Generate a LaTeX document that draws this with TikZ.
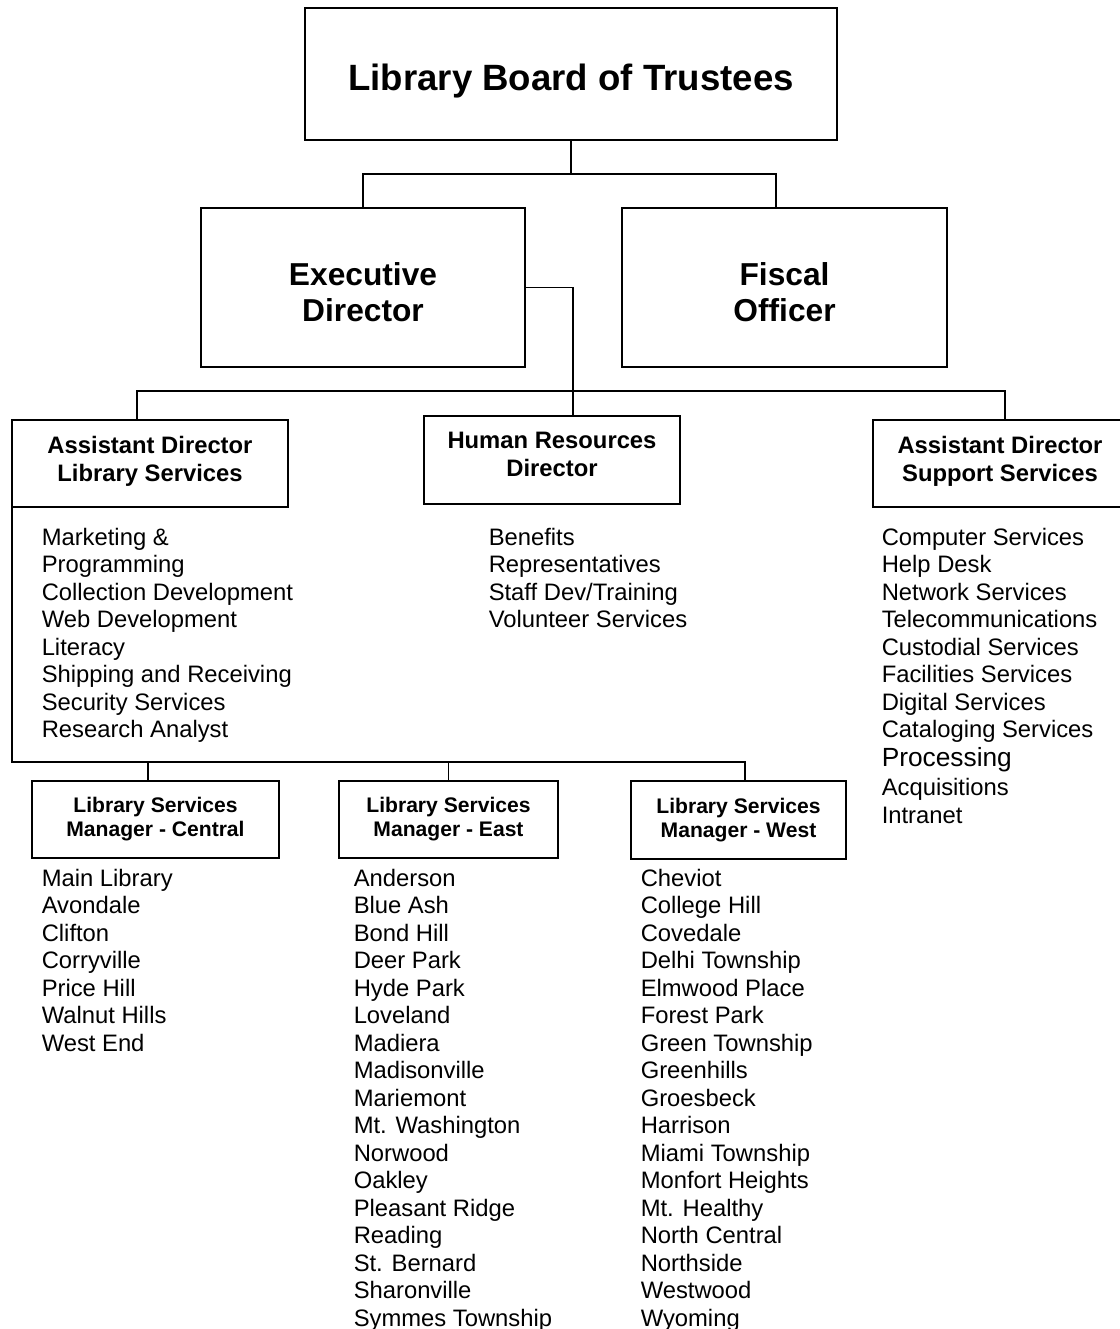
\documentclass[tikz,border=0pt]{standalone}
\usepackage{fontspec}
\setmainfont{Liberation Sans}
\usetikzlibrary{positioning}

\begin{document}
\begin{tikzpicture}[
  x=1pt, y=-1pt,
  line width=1.5pt,
  box/.style={draw, outer sep=0pt, inner sep=2pt, align=center},
  tier1/.style={font=\bfseries\fontsize{36.6}{40}\selectfont},
  tier2/.style={font=\bfseries\fontsize{31.7}{36}\selectfont},
  tier3/.style={font=\bfseries\fontsize{23.8}{27.5}\selectfont},
  tier4/.style={font=\bfseries\fontsize{21.1}{24}\selectfont},
  list/.style={align=left, inner sep=0pt, font=\fontsize{23.8}{27.5}\selectfont}
]
\useasboundingbox (0,0) rectangle (1119,1329);

% boxes (struts nudge the text as in the original)
\node[box, tier1, minimum width=532, minimum height=132] (board) at (571,74) {\rule{0pt}{40pt}Library Board of Trustees};
\node[box, tier2, minimum width=324, minimum height=159] (exec) at (363,287.5) {\rule{0pt}{32pt}Executive\\ Director};
\node[box, tier2, minimum width=325, minimum height=159] (fiscal) at (784.5,287.5) {\rule{0pt}{32pt}Fiscal\\ Officer};
\node[box, tier3, minimum width=276, minimum height=87] (adlib) at (150,463.5) {Assistant Director\\ Library Services\rule[-9pt]{0pt}{9pt}};
\node[box, tier3, minimum width=256, minimum height=88] (hr) at (552,460) {Human Resources\\ Director\rule[-11pt]{0pt}{11pt}};
\node[box, tier3, minimum width=254, minimum height=87] (adsup) at (1000,463.5) {Assistant Director\\ Support Services\rule[-9pt]{0pt}{9pt}};
\node[box, tier4, minimum width=247, minimum height=77] (central) at (155.5,819.5) {Library Services\\ Manager - Central};
\node[box, tier4, minimum width=219, minimum height=77] (east) at (448.5,819.5) {Library Services\\ Manager - East};
\node[box, tier4, minimum width=215, minimum height=78] (west) at (738.5,820) {Library Services\\ Manager - West};

% lists under the boxes
\node[list, below right=20pt and 29pt of adlib.south west] (adliblist)
  {Marketing \&\\ Programming\\ Collection Development\\ Web Development\\ Literacy\\
   Shipping and Receiving\\ Security Services\\ Research Analyst};
\node[list, below right=23pt and 64pt of hr.south west] (hrlist)
  {Benefits\\ Representatives\\ Staff Dev/Training\\ Volunteer Services};
\node[list, below right=20pt and 8pt of adsup.south west] (adsuplist)
  {Computer Services\\ Help Desk\\ Network Services\\ Telecommunications\\ Custodial Services\\
   Facilities Services\\ Digital Services\\ Cataloging Services\\[1.5pt]
   {\fontsize{26.3}{29}\selectfont Processing}\\[1.5pt] Acquisitions\\ Intranet};
\node[list, below right=10pt and 9pt of central.south west] (centrallist)
  {Main Library\\ Avondale\\ Clifton\\ Corryville\\ Price Hill\\ Walnut Hills\\ West End};
\node[list, below right=10pt and 14pt of east.south west] (eastlist)
  {Anderson\\ Blue Ash\\ Bond Hill\\ Deer Park\\ Hyde Park\\ Loveland\\ Madiera\\ Madisonville\\
   Mariemont\\ Mt. Washington\\ Norwood\\ Oakley\\ Pleasant Ridge\\ Reading\\ St. Bernard\\
   Sharonville\\ Symmes Township};
\node[list, below right=9pt and 9pt of west.south west] (westlist)
  {Cheviot\\ College Hill\\ Covedale\\ Delhi Township\\ Elmwood Place\\ Forest Park\\
   Green Township\\ Greenhills\\ Groesbeck\\ Harrison\\ Miami Township\\ Monfort Heights\\
   Mt. Healthy\\ North Central\\ Northside\\ Westwood\\ Wyoming};

% connectors
\coordinate (trunk) at (571,174);
\coordinate (bus1) at (573,391);
\coordinate (bus2) at (448.5,762);
\draw (board.south) -- (trunk);
\draw (exec.north) |- (trunk) -| ([xshift=-8.5pt]fiscal.north);
\draw (exec.east) -| ([xshift=21pt]hr.north);
\draw ([xshift=-13pt]adlib.north) |- (bus1) -| ([xshift=5pt]adsup.north);
\draw (adlib.south west) |- (bus2) -| ([xshift=6.5pt]west.north);
\draw (east.north) -- (bus2);
\draw ([xshift=-7.5pt]central.north) -- ++(0,-19);

\end{tikzpicture}
\end{document}
